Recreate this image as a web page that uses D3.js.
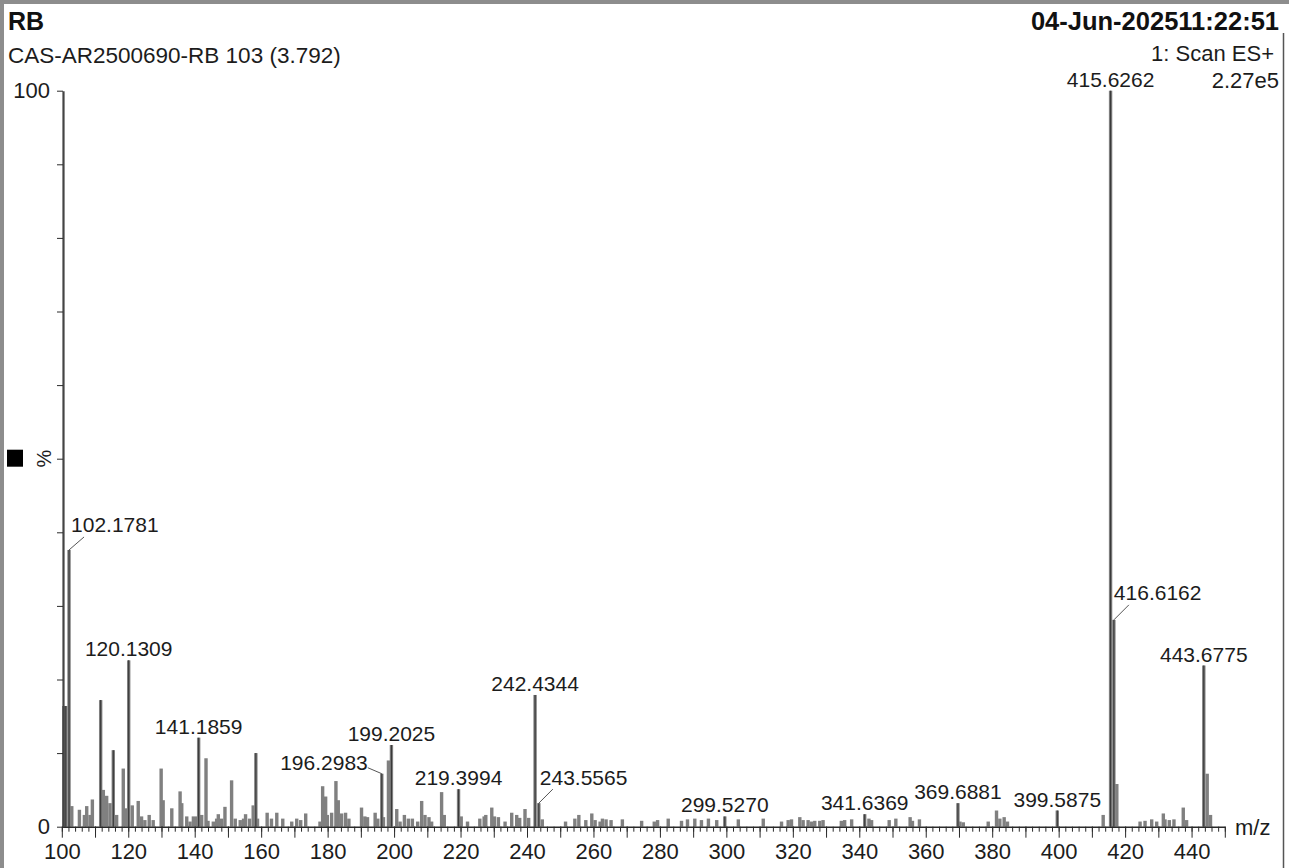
<!DOCTYPE html>
<html>
<head>
<meta charset="utf-8">
<script src="https://cdn.jsdelivr.net/npm/d3@7/dist/d3.min.js"></script>
<style>
  html, body { margin: 0; padding: 0; background: #fff; }
  svg { display: block; font-family: "Liberation Sans", Arial, sans-serif; }
</style>
</head>
<body>
<svg id="chart" width="1289" height="868"></svg>
<script>
// ---------------- DATA ----------------
const titleText = "RB";
const sampleText = "CAS-AR2500690-RB 103 (3.792)";
const dateText = "04-Jun-202511:22:51";
const scanText = "1: Scan ES+";
const maxIntensityText = "2.27e5";
const xAxisTitle = "m/z";
const yAxisTitle = "%";

const xMajorLabelTicks = [100, 120, 140, 160, 180, 200, 220, 240, 260, 280, 300, 320, 340, 360, 380, 400, 420, 440];
const yTickValues = [0, 10, 20, 30, 40, 50, 60, 70, 80, 90, 100];
const yTickLabels = ["0", "", "", "", "", "", "", "", "", "", "100"];

// peak m/z values and relative intensities (%)
const peakMz = [
  100.6, 101.2, 102.1781, 103.0, 105.3, 106.8, 107.5, 108.5, 109.2, 111.7,
  112.5, 113.5, 114.5, 115.5, 116.5, 118.5, 119.2, 120.1309, 121.2, 123.0,
  124.0, 125.0, 126.3, 127.5, 129.9, 130.5, 133.1, 135.6, 136.1, 137.6,
  138.6, 139.6, 140.6, 141.1859, 142.1, 143.4, 144.0, 145.6, 146.6, 147.1,
  148.1, 149.1, 151.1, 152.2, 153.7, 154.7, 155.3, 156.5, 157.6, 158.4,
  158.9, 161.8, 163.1, 164.7, 166.5, 169.2, 170.7, 171.9, 173.4, 177.7,
  178.5, 179.4, 179.9, 181.2, 182.5, 183.2, 184.2, 185.4, 186.4, 190.2,
  191.2, 192.0, 194.3, 195.1, 196.2983, 196.8, 198.3, 199.2025, 200.8, 201.8,
  203.1, 204.3, 205.5, 207.1, 208.3, 209.3, 210.5, 211.3, 214.3, 215.1,
  219.3994, 220.2, 222.1, 225.8, 227.1, 227.6, 229.4, 230.2, 231.4, 233.4,
  235.4, 236.9, 237.8, 239.4, 240.5, 242.4344, 243.5565, 244.6, 251.6, 254.4,
  255.6, 257.7, 259.5, 260.5, 262.0, 262.7, 263.8, 265.3, 268.7, 274.5,
  278.3, 279.3, 282.5, 286.5, 288.3, 290.5, 292.5, 294.6, 297.1, 299.5270,
  303.6, 311.1, 316.6, 318.6, 319.6, 322.1, 323.1, 324.6, 325.6, 326.6,
  328.1, 329.1, 334.6, 335.6, 337.7, 341.6369, 342.9, 343.7, 349.0, 351.0,
  355.3, 356.0, 358.1, 369.6881, 370.3, 371.3, 378.8, 381.3, 382.3, 383.6,
  384.6, 399.5875, 413.4, 415.6262, 416.6162, 417.5, 424.5, 426.0, 428.0, 429.5,
  431.5, 432.0, 433.3, 434.7, 437.5, 438.5, 443.6775, 444.7, 445.7
];
const peakIntensity = [
  16.4, 16.4, 37.6, 2.8, 2.3, 1.6, 2.8, 1.6, 3.7, 17.2,
  5.0, 4.2, 3.2, 10.4, 1.6, 7.9, 2.5, 22.6, 2.9, 3.5,
  1.4, 0.9, 1.6, 0.9, 7.9, 3.6, 2.5, 4.8, 3.2, 1.4,
  0.7, 1.4, 1.4, 12.1, 1.6, 9.3, 0.8, 0.7, 1.1, 1.7,
  1.1, 2.7, 6.3, 1.1, 0.9, 1.1, 1.7, 1.1, 2.9, 10.0,
  1.1, 1.9, 1.1, 1.9, 1.1, 0.7, 1.1, 0.9, 1.8, 0.7,
  5.5, 4.1, 1.6, 1.9, 6.2, 3.6, 1.8, 1.9, 1.1, 2.6,
  1.4, 1.3, 1.9, 1.1, 7.2, 1.3, 9.0, 11.1, 2.4, 0.7,
  1.6, 1.1, 1.1, 0.7, 3.5, 1.6, 1.3, 0.7, 4.7, 1.6,
  5.1, 1.4, 0.7, 1.1, 1.4, 1.6, 2.6, 1.4, 1.3, 0.7,
  1.9, 1.6, 1.2, 2.4, 1.2, 17.9, 3.2, 1.0, 0.7, 1.1,
  1.6, 0.9, 1.8, 0.9, 0.7, 1.1, 1.0, 0.9, 1.0, 0.8,
  0.7, 0.9, 1.1, 0.8, 1.0, 1.1, 0.9, 1.1, 0.9, 1.4,
  1.0, 1.1, 0.7, 0.9, 1.0, 1.3, 0.9, 0.9, 0.7, 0.8,
  0.8, 0.9, 0.8, 0.9, 1.0, 1.7, 1.1, 0.9, 0.9, 1.1,
  1.3, 0.8, 1.0, 3.2, 0.7, 0.6, 0.7, 2.2, 1.1, 1.3,
  0.7, 2.2, 1.6, 100, 28.1, 5.8, 0.7, 0.8, 1.0, 0.7,
  1.8, 1.0, 0.9, 1.0, 2.6, 0.9, 21.9, 7.2, 1.6
];

// labelled peaks
const labelMz = [102.1781, 120.1309, 141.1859, 196.2983, 199.2025, 219.3994, 242.4344, 243.5565,
                 299.5270, 341.6369, 369.6881, 399.5875, 415.6262, 416.6162, 443.6775];
const labelText = ["102.1781", "120.1309", "141.1859", "196.2983", "199.2025", "219.3994", "242.4344", "243.5565",
                   "299.5270", "341.6369", "369.6881", "399.5875", "415.6262", "416.6162", "443.6775"];

// ---------------- LAYOUT ----------------
const svg = d3.select("#chart");
const W = 1289, H = 868;
const x = d3.scaleLinear().domain([100, 450]).range([61.8, 1224.8]);
const y = d3.scaleLinear().domain([0, 100]).range([826.7, 90.7]);
const textColor = "#1c1c1c";

// frame
svg.append("rect").attr("x", 0).attr("y", 0).attr("width", W).attr("height", 4).attr("fill", "#8d8d8d");
svg.append("rect").attr("x", 0).attr("y", 0).attr("width", 4).attr("height", H).attr("fill", "#8d8d8d");
svg.append("line").attr("x1", 1283.5).attr("x2", 1283.5).attr("y1", 33).attr("y2", H)
  .attr("stroke", "#555").attr("stroke-width", 1.5);

// header texts
svg.append("text").attr("x", 8).attr("y", 30).attr("font-size", 25).attr("font-weight", "bold")
  .attr("fill", "#111").text(titleText);
svg.append("text").attr("x", 8).attr("y", 63).attr("font-size", 22.5)
  .attr("fill", textColor).text(sampleText);
svg.append("text").attr("x", 1279).attr("y", 30).attr("font-size", 25.5).attr("font-weight", "bold")
  .attr("text-anchor", "end").attr("fill", "#111").text(dateText);
svg.append("text").attr("x", 1274).attr("y", 61).attr("font-size", 22)
  .attr("text-anchor", "end").attr("fill", textColor).text(scanText);
svg.append("text").attr("x", 1279).attr("y", 88).attr("font-size", 22)
  .attr("text-anchor", "end").attr("fill", textColor).text(maxIntensityText);

// peaks
const peaks = peakMz.map((m, i) => ({ mz: m, v: peakIntensity[i] }));
const labelSet = new Set(labelMz);
svg.append("g").selectAll("rect").data(peaks).join("rect")
  .attr("x", d => x(d.mz) - 1.7)
  .attr("width", 3.4)
  .attr("y", d => y(d.v))
  .attr("height", d => y(0) - y(d.v))
  .attr("fill", "#808080");
svg.append("g").selectAll("line").data(peaks.filter(d => d.v >= 10 || labelSet.has(d.mz))).join("line")
  .attr("x1", d => x(d.mz)).attr("x2", d => x(d.mz))
  .attr("y1", d => y(d.v)).attr("y2", y(0))
  .attr("stroke", "#3a3a3a").attr("stroke-width", 1.2);

// x axis
const minorTicks = d3.range(100, 451, 2);
const majorTicks = d3.range(100, 451, 10);
const gxMinor = svg.append("g").attr("transform", `translate(0,${y(0)})`)
  .call(d3.axisBottom(x).tickValues(minorTicks).tickSize(5).tickSizeOuter(0).tickFormat(""));
const gxMajor = svg.append("g").attr("transform", `translate(0,${y(0)})`)
  .call(d3.axisBottom(x).tickValues(majorTicks).tickSize(11).tickSizeOuter(0).tickPadding(5.5)
    .tickFormat(d => xMajorLabelTicks.includes(d) ? String(d) : ""));
gxMajor.select(".domain").remove();
gxMinor.select(".domain").attr("stroke", "#2a2a2a").attr("stroke-width", 1.6);
[gxMinor, gxMajor].forEach(g => g.selectAll(".tick line").attr("stroke", "#2a2a2a").attr("stroke-width", 1));
gxMajor.selectAll(".tick text").attr("font-size", 22).attr("fill", textColor)
  .attr("font-family", "Liberation Sans, Arial, sans-serif");

svg.append("text").attr("x", 1235).attr("y", 835).attr("font-size", 22).attr("fill", textColor).text(xAxisTitle);

// y axis
const gy = svg.append("g").attr("transform", `translate(${x(100) + 1.2},0)`)
  .call(d3.axisLeft(y).tickValues(yTickValues).tickSize(6).tickSizeOuter(0).tickPadding(7)
    .tickFormat((d, i) => yTickLabels[i]));
gy.select(".domain").attr("stroke", "#444").attr("stroke-width", 2.2);
gy.selectAll(".tick line").attr("stroke", "#2a2a2a").attr("stroke-width", 1);
gy.selectAll(".tick text").attr("font-size", 22).attr("fill", textColor)
  .attr("font-family", "Liberation Sans, Arial, sans-serif");

svg.append("text")
  .attr("transform", `translate(44,${y(50)}) rotate(-90)`)
  .attr("text-anchor", "middle").attr("dy", "0.35em")
  .attr("font-size", 20).attr("fill", textColor).text(yAxisTitle);
svg.append("rect").attr("x", 7).attr("y", y(50) - 9).attr("width", 16).attr("height", 17).attr("fill", "#000");

// peak labels
const leaderLayout = {
  "102.1781": { dir: "right", dx: 15, dy: -13, tx: 2, ty: -18 },
  "196.2983": { dir: "left",  dx: -14, dy: -6, tx: -14, ty: -4 },
  "243.5565": { dir: "right", dx: 14, dy: -14, tx: 1, ty: -18 },
  "416.6162": { dir: "right", dx: 15, dy: -15, tx: 0, ty: -20 }
};
const labG = svg.append("g");
labelMz.forEach((m, i) => {
  const v = peakIntensity[peakMz.indexOf(m)];
  const px = x(m), py = y(v);
  const lay = leaderLayout[labelText[i]];
  if (lay) {
    labG.append("line").attr("x1", px).attr("y1", py).attr("x2", px + lay.dx).attr("y2", py + lay.dy)
      .attr("stroke", "#555").attr("stroke-width", 1);
    labG.append("text").attr("x", px + lay.tx).attr("y", py + lay.ty)
      .attr("text-anchor", lay.dir === "left" ? "end" : "start")
      .attr("font-size", 21).attr("fill", textColor).text(labelText[i]);
  } else {
    labG.append("text").attr("x", px).attr("y", py - 4)
      .attr("text-anchor", "middle").attr("font-size", 21).attr("fill", textColor).text(labelText[i]);
  }
});
</script>
</body>
</html>
